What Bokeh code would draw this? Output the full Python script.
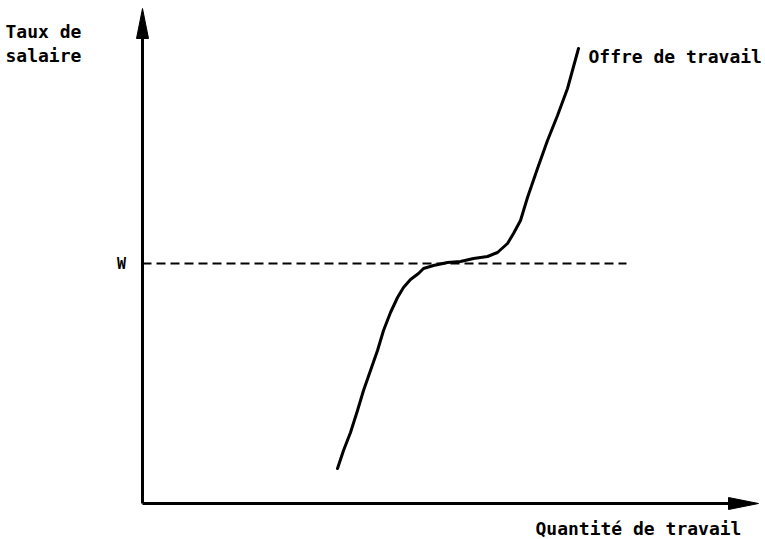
from bokeh.plotting import figure
from bokeh.models import Range1d
from bokeh.core.properties import value
from bokeh.embed import file_html
from bokeh.resources import INLINE

# Labour supply curve (abstract units: quantity, wage)
supply_q = [19.5, 20.1, 20.8, 21.5, 22.1, 22.8, 23.5, 24.1, 24.8, 25.5, 26.1, 26.8, 27.6,
            28.1, 29.1, 30.5, 31.8, 33.1, 34.5, 35.5, 36.5, 37.1, 37.8, 38.5, 39.5,
            40.5, 41.5, 42.5, 43.6]
supply_w = [3.5, 5.3, 7.1, 9.3, 11.3, 13.3, 15.3, 17.3, 19.1, 20.6, 21.6, 22.4, 23.0,
            23.5, 23.8, 24.1, 24.2, 24.5, 24.7, 25.1, 26.0, 27.0, 28.3, 30.6, 33.5,
            36.3, 38.8, 41.5, 45.5]
wage_level = 24.0
wage_line_end = 48.4
x_axis_end = 61.6
y_axis_end = 49.5

y_title = ["Taux de", "salaire"]
x_title = "Quantité de travail"
curve_label = "Offre de travail"
wage_label = "W"

FONT = value("DejaVu Sans Mono")

p = figure(width=765, height=539, output_backend="svg", toolbar_location=None,
           x_range=Range1d(-14.2, 62.3), y_range=Range1d(-3.6, 50.3),
           min_border=0, outline_line_color=None)
p.axis.visible = False
p.grid.visible = False
p.background_fill_color = "white"
p.border_fill_color = "white"

# axes
p.line([0, 0], [0, y_axis_end - 2.5], line_color="black", line_width=3)
p.line([0, x_axis_end - 2.5], [0, 0], line_color="black", line_width=3)
# arrow heads (long narrow triangles)
p.patch([-0.6, 0.6, 0], [y_axis_end - 3.0, y_axis_end - 3.0, y_axis_end], color="black")
p.patch([x_axis_end - 3.0, x_axis_end - 3.0, x_axis_end], [-0.6, 0.6, 0], color="black")

# wage dashed line
p.line([0, wage_line_end], [wage_level, wage_level], line_color="black",
       line_width=2, line_dash="9 5")

# supply curve
p.line(supply_q, supply_w, line_color="black", line_width=3, line_join="round", line_cap="round")

# texts
p.text(x=[-13.7, -13.7], y=[47.2, 44.8], text=y_title, text_font=FONT,
       text_font_size="18px", text_font_style="bold", text_color="black",
       text_baseline="alphabetic")
p.text(x=[-2.1], y=[wage_level], text=[wage_label], text_font=FONT,
       text_font_size="15px", text_font_style="bold", text_color="black",
       text_align="center", text_baseline="middle")
p.text(x=[44.6], y=[44.7], text=[curve_label], text_font=FONT,
       text_font_size="18px", text_font_style="bold", text_color="black",
       text_baseline="alphabetic")
p.text(x=[39.3], y=[-2.5], text=[x_title], text_font=FONT,
       text_font_size="18px", text_font_style="bold", text_color="black",
       text_baseline="alphabetic")

open("out.html", "w").write(file_html(p, INLINE))
